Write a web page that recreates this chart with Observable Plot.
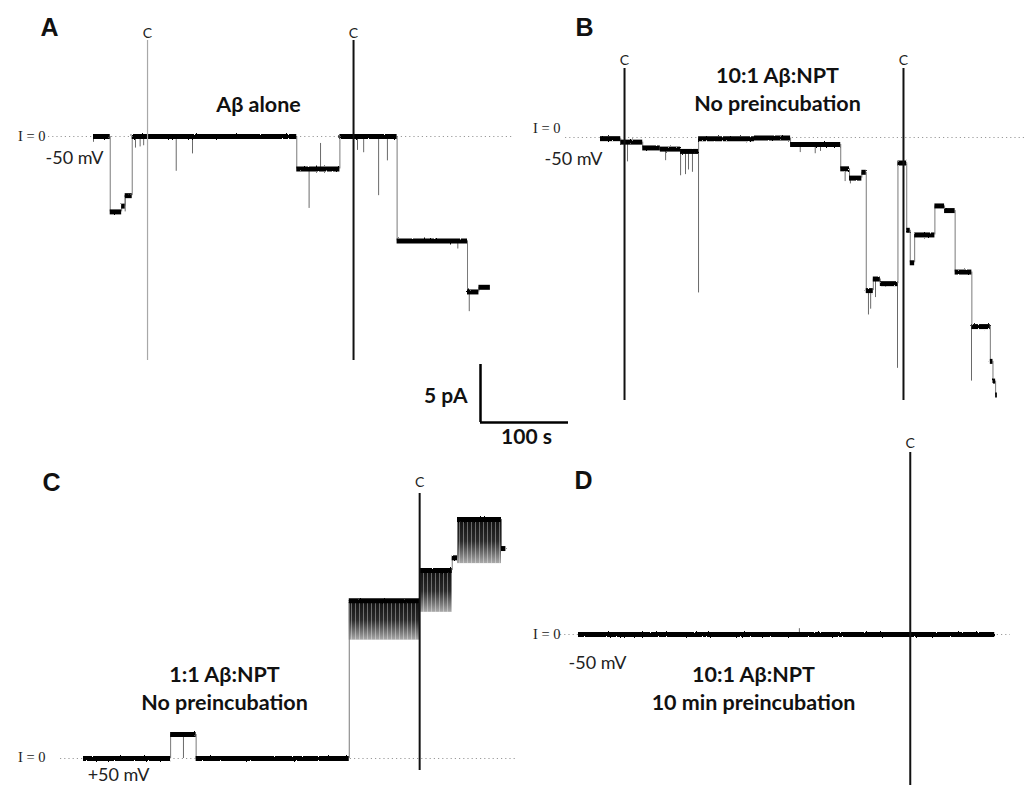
<!DOCTYPE html>
<html><head><meta charset="utf-8">
<script src="https://cdn.jsdelivr.net/npm/d3@7"></script>
<script src="https://cdn.jsdelivr.net/npm/@observablehq/plot@0.6"></script>
<style>
body{margin:0;background:#fff}
#chart{position:relative;width:1024px;height:785px}
</style>
</head><body><div id="chart"></div>
<script>
// ---------- DATA (time in s from trace start, current in pA relative to I = 0) ----------
const panelIds = ["A", "B", "C", "D"];
const panelTitlesA = ["Aβ alone"];
const panelTitlesB = ["10:1 Aβ:NPT", "No preincubation"];
const panelTitlesC = ["1:1 Aβ:NPT", "No preincubation"];
const panelTitlesD = ["10:1 Aβ:NPT", "10 min preincubation"];
const holdingPotentials = ["-50 mV", "-50 mV", "+50 mV", "-50 mV"];
const zeroLabel = "I = 0";
const markerLabel = "C";

// current levels: [tStart, tEnd, current]
const levelsA = [[0,19,0],[19,32,-6.5],[32,36,-6.0],[36,44,-5.1],[44,231,0],[231,280,-2.8],[280,345,0],[345,425,-9.0],[425,438,-13.4],[438,451,-13.0]];
const levelsB = [[0,23,-0.1],[23,48,-0.4],[48,68,-0.9],[68,91,-1.0],[91,111.5,-1.2],[111.5,175,-0.1],[175,216,-0.05],[216,273,-0.6],[273,283,-2.7],[283,297,-3.5],[297,302,-3.0],[302,310,-13.2],[310,318,-12.2],[318,338,-12.6],[338,348,-2.2],[348,352,-8.0],[352,357,-10.8],[357,380,-8.4],[380,391,-5.9],[391,403,-6.3],[403,422,-11.6],[422,443,-16.3],[443,446,-19.3],[446,449,-21.0],[449,451,-22.2]];
const levelsC = [[0,99,0],[99,128,2.07],[128,302,0],[302,382,13.6],[382,419,16.2],[419,425,17.3],[425,475,20.6],[475,480,18.1]];
const levelsD = [[0,473,0]];

// brief events: [t, from, to]
const spikesA = [[0,0,-0.5],[36,-5.1,-6.5],[47.7,0,-1.0],[53,0,-0.9],[57,0,-0.8],[94,0,-3.0],[112.5,0,-1.5],[245,-2.8,-6.2],[258,-2.8,-0.6],[300,0,-1.2],[307,0,-1.4],[324,0,-5.1],[334,0,-2.1],[414,-9.0,-9.7],[427,-13.4,-15.1]];
const spikesB = [[30.7,-0.3,-2.1],[74,-1.0,-2.0],[91,-1.2,-3.3],[96.6,-1.2,-3.2],[100,-1.2,-2.8],[104.5,-1.2,-3.0],[111.4,-1.2,-13.4],[227,-0.6,-1.3],[244,-0.6,-1.4],[250,-0.6,-1.2],[278,-2.7,-3.8],[284,-3.5,-4.0],[304.5,-13.2,-15.3],[307,-13.2,-14.8],[312.5,-12.2,-13.8],[324,-12.6,-12.9],[337.5,-12.6,-19.9],[421.6,-16.3,-21.0]];
const spikesC = [[113.6,2.07,0]];
const spikesD = [[251,0,0.5]];

// flicker envelopes: [tStart, tEnd, open level, deepest closure]
const flickerC = [[302,382,13.6,10.2],[382,419,16.2,12.6],[425,475,20.6,16.8]];

// "C" marker times
const markersA = [61.4, 295.5];
const markersB = [27.3, 344.3];
const markersC = [382];
const markersD = [377];

const scaleBarPA = 5;
const scaleBarS = 100;
const scaleBarLabels = ["5 pA", "100 s"];

// ---------- LAYOUT (pixels) ----------
const W = 1024, H = 785, PX_S = 0.88, PX_PA = 11.6;
const X = px => px / PX_S;
const Y = py => (H - py) / PX_PA;
const layout = {
  A: {ox:93, oy:136, base:[48,512], label:[40,27], title:[258,105], zero:[45,136], mv:[74,158], cLine:[40,360], cLab:33, faint:[true,false]},
  B: {ox:600, oy:137, base:[565,1024], label:[575,27], title:[777,76], zero:[560,128], mv:[573,159], cLine:[68,400], cLab:60, faint:[false,false]},
  C: {ox:83, oy:758, base:[60,515], label:[42,482], title:[224,675], zero:[45,757], mv:[118,775], cLine:[493,770], cLab:482, faint:[false]},
  D: {ox:578, oy:634, base:[560,1010], label:[574,480], title:[753,675], zero:[560,634], mv:[597,663], cLine:[452,785], cLab:443, faint:[false]}
};
const sb = {x:480, y:422, lab5:[467,396], lab100:[526,437]};

const src = {
  A:{levels:levelsA, spikes:spikesA, flicker:[], markers:markersA, titles:panelTitlesA},
  B:{levels:levelsB, spikes:spikesB, flicker:[], markers:markersB, titles:panelTitlesB},
  C:{levels:levelsC, spikes:spikesC, flicker:flickerC, markers:markersC, titles:panelTitlesC},
  D:{levels:levelsD, spikes:spikesD, flicker:[], markers:markersD, titles:panelTitlesD}
};

const levelRows = [], transRows = [], spikeRows = [], flickRows = [], markerRows = [], baseRows = [];
const letterRows = [], titleRows = [], zeroRows = [], mvRows = [], cLabRows = [];
panelIds.forEach((id, pi) => {
  const p = layout[id], d = src[id], t0 = X(p.ox), i0 = Y(p.oy);
  d.levels.forEach(([a, b, v], k) => {
    levelRows.push({x1: t0 + a, x2: t0 + b, y: i0 + v});
    if (k > 0) transRows.push({x: t0 + a, y1: i0 + d.levels[k - 1][2], y2: i0 + v});
  });
  d.spikes.forEach(([t, f, to]) => spikeRows.push({x: t0 + t, y1: i0 + f, y2: i0 + to}));
  d.flicker.forEach(([a, b, top, bot]) => flickRows.push({x1: t0 + a, x2: t0 + b, y1: i0 + bot, y2: i0 + top}));
  d.markers.forEach((t, k) => {
    markerRows.push({x: t0 + t, y1: Y(p.cLine[1]), y2: Y(p.cLine[0]), faint: p.faint[k]});
    cLabRows.push({x: t0 + t, y: Y(p.cLab), text: markerLabel});
  });
  baseRows.push({x1: X(p.base[0]), x2: X(p.base[1]), y: i0});
  letterRows.push({x: X(p.label[0]), y: Y(p.label[1]), text: id});
  d.titles.forEach((s, k) => titleRows.push({x: X(p.title[0]), y: Y(p.title[1] + k * 28), text: s}));
  zeroRows.push({x: X(p.zero[0]), y: Y(p.zero[1]), text: zeroLabel});
  mvRows.push({x: X(p.mv[0]), y: Y(p.mv[1]), text: holdingPotentials[pi]});
});

const sbX = X(sb.x), sbY = Y(sb.y);
const sans = "Lato, 'Open Sans', sans-serif";

const svg = Plot.plot({
  width: W, height: H, margin: 0,
  x: {domain: [0, W / PX_S], axis: null},
  y: {domain: [0, H / PX_PA], axis: null},
  style: {background: "#fff"},
  marks: [
    Plot.ruleY(baseRows, {x1: "x1", x2: "x2", y: "y", stroke: "#9a9a9a", strokeWidth: 1, strokeDasharray: "1.2,3"}),
    Plot.rect(flickRows, {x1: "x1", x2: "x2", y1: "y1", y2: "y2", fill: "url(#flick)"}),
    Plot.rect(flickRows, {x1: "x1", x2: "x2", y1: "y1", y2: "y2", fill: "url(#stripes)"}),
    Plot.ruleX(transRows, {x: "x", y1: "y1", y2: "y2", stroke: "#7a7a7a", strokeWidth: 1}),
    Plot.ruleX(spikeRows, {x: "x", y1: "y1", y2: "y2", stroke: "#6a6a6a", strokeWidth: 1}),
    Plot.ruleY(levelRows, {x1: "x1", x2: "x2", y: "y", stroke: "#000", strokeWidth: 5}),
    Plot.ruleX(markerRows.filter(d => d.faint), {x: "x", y1: "y1", y2: "y2", stroke: "#a8a8a8", strokeWidth: 1.2}),
    Plot.ruleX(markerRows.filter(d => !d.faint), {x: "x", y1: "y1", y2: "y2", stroke: "#111", strokeWidth: 2}),
    Plot.text(cLabRows, {x: "x", y: "y", text: "text", fontFamily: sans, fontSize: 14, fill: "#222"}),
    Plot.text(letterRows, {x: "x", y: "y", text: "text", textAnchor: "start", fontFamily: "'Liberation Sans', Arial, sans-serif", fontWeight: "bold", fontSize: 25, fill: "#111"}),
    Plot.text(titleRows, {x: "x", y: "y", text: "text", fontFamily: sans, fontWeight: "bold", fontSize: 21.5, fill: "#111"}),
    Plot.text(zeroRows, {x: "x", y: "y", text: "text", textAnchor: "end", fontFamily: "'Liberation Serif', 'DejaVu Serif', serif", fontSize: 14.5, fill: "#222"}),
    Plot.text(mvRows, {x: "x", y: "y", text: "text", fontFamily: sans, fontSize: 18, fill: "#222"}),
    // scale bar
    Plot.ruleX([scaleBarPA], {x: sbX, y1: sbY, y2: d => sbY + d, stroke: "#000", strokeWidth: 2.5}),
    Plot.ruleY([scaleBarS], {y: sbY, x1: sbX, x2: d => sbX + d, stroke: "#000", strokeWidth: 2.5}),
    Plot.text([scaleBarLabels[0]], {x: X(sb.lab5[0]), y: Y(sb.lab5[1]), text: d => d, textAnchor: "end", fontFamily: sans, fontWeight: "bold", fontSize: 21, fill: "#111"}),
    Plot.text([scaleBarLabels[1]], {x: X(sb.lab100[0]), y: Y(sb.lab100[1]), text: d => d, fontFamily: sans, fontWeight: "bold", fontSize: 21, fill: "#111"})
  ]
});

const defs = d3.select(svg).insert("defs", ":first-child");
const g = defs.append("linearGradient").attr("id", "flick").attr("x1", 0).attr("y1", 0).attr("x2", 0).attr("y2", 1);
g.append("stop").attr("offset", "0").attr("stop-color", "#111");
g.append("stop").attr("offset", "0.5").attr("stop-color", "#2a2a2a");
g.append("stop").attr("offset", "1").attr("stop-color", "#aaa");
const pat = defs.append("pattern").attr("id", "stripes").attr("patternUnits", "userSpaceOnUse").attr("width", 4).attr("height", 40);
pat.append("rect").attr("x", 3).attr("y", 0).attr("width", 1).attr("height", 40).attr("fill", "#fff").attr("fill-opacity", 0.35);
const f = defs.append("filter").attr("id", "noise").attr("filterUnits", "userSpaceOnUse")
  .attr("x", 0).attr("y", 0).attr("width", W).attr("height", H);
f.append("feTurbulence").attr("type", "fractalNoise").attr("baseFrequency", "0.5 0.5").attr("numOctaves", 1).attr("seed", 4).attr("result", "t");
f.append("feDisplacementMap").attr("in", "SourceGraphic").attr("in2", "t").attr("scale", 2.5)
  .attr("xChannelSelector", "R").attr("yChannelSelector", "G");
const groups = svg.querySelectorAll(":scope > g");
if (groups[5]) groups[5].setAttribute("filter", "url(#noise)");

document.getElementById("chart").appendChild(svg);
</script>
</body></html>
